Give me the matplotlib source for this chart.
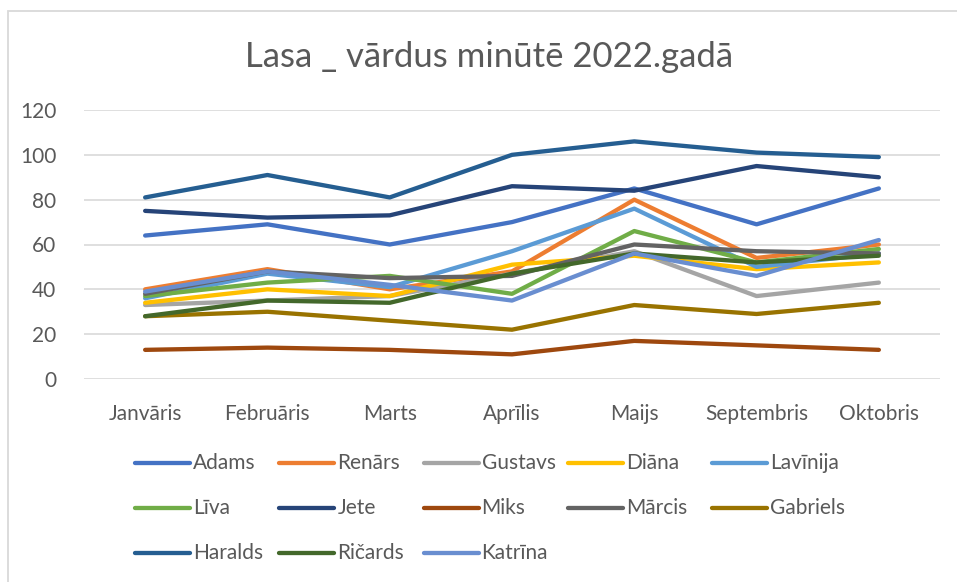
import matplotlib
matplotlib.use("Agg")
import matplotlib.pyplot as plt
from matplotlib.lines import Line2D
from matplotlib.patches import Rectangle

plt.rcParams['font.family'] = ['Lato', 'DejaVu Sans']

months = ["Janvāris", "Februāris", "Marts", "Aprīlis", "Maijs", "Septembris", "Oktobris"]

adams    = [64, 69, 60, 70, 85, 69, 85]
renars   = [40, 49, 40, 48, 80, 54, 60]
gustavs  = [33, 35, 37, 47, 57, 37, 43]
diana    = [34, 40, 37, 51, 55, 49, 52]
lavinija = [36, 47, 41, 57, 76, 50, 56]
liva     = [37, 43, 46, 38, 66, 52, 58]
jete     = [75, 72, 73, 86, 84, 95, 90]
miks     = [13, 14, 13, 11, 17, 15, 13]
marcis   = [38, 48, 45, 46, 60, 57, 56]
gabriels = [28, 30, 26, 22, 33, 29, 34]
haralds  = [81, 91, 81, 100, 106, 101, 99]
ricards  = [28, 35, 34, 47, 56, 52, 55]
katrina  = [39, 48, 42, 35, 56, 46, 62]

names = ["Adams", "Renārs", "Gustavs", "Diāna", "Lavīnija", "Līva", "Jete",
         "Miks", "Mārcis", "Gabriels", "Haralds", "Ričards", "Katrīna"]
series = [adams, renars, gustavs, diana, lavinija, liva, jete,
          miks, marcis, gabriels, haralds, ricards, katrina]
colors = ["#4472C4", "#ED7D31", "#A5A5A5", "#FFC000", "#5B9BD5", "#70AD47", "#264478",
          "#9E480E", "#636363", "#997300", "#255E91", "#43682B", "#698ED0"]

W, H = 957, 582
fig = plt.figure(figsize=(W / 100, H / 100), dpi=100)
fig.add_artist(Rectangle((8 / W, -0.01), 1.0, 1 - 11 / H + 0.01, transform=fig.transFigure,
                         fill=False, edgecolor="#D9D9D9", linewidth=1.3))

ax = fig.add_axes([84 / W, 1 - 379 / H, 856 / W, 269 / H])
x = range(len(months))
for name, vals, c in zip(names, series, colors):
    ax.plot(x, vals, color=c, lw=3.1, solid_capstyle='round', solid_joinstyle='round', label=name)

ax.set_xlim(-0.5, len(months) - 0.5)
ax.set_ylim(0, 120)
ax.set_yticks(range(0, 121, 20))
ax.set_xticks(list(x))
ax.set_xticklabels(months)
ax.grid(axis='y', color="#D9D9D9", lw=1.2)
ax.set_axisbelow(True)
for s in ax.spines.values():
    s.set_visible(False)
ax.tick_params(length=0, labelsize=15, colors="#595959", pad=20)
ax.tick_params(axis='x', pad=18)

fig.text(489 / W, 1 - 57 / H, "Lasa _ vārdus minūtē 2022.gadā", ha='center', va='center',
         fontsize=25, color="#595959")

# legend laid out like Excel: 5 equal columns
col0, colw = 135, 144.3
row0, rowh = 463, 45
for i, (name, c) in enumerate(zip(names, colors)):
    r, k = divmod(i, 5)
    lx = col0 + k * colw
    ly = 1 - (row0 + r * rowh) / H
    fig.add_artist(Line2D([lx / W, (lx + 55) / W], [ly, ly], transform=fig.transFigure,
                          color=c, lw=3.1, solid_capstyle='round'))
    fig.text((lx + 58) / W, ly, name, ha='left', va='center', fontsize=15, color="#595959")

fig.savefig("out.png", dpi=100)
